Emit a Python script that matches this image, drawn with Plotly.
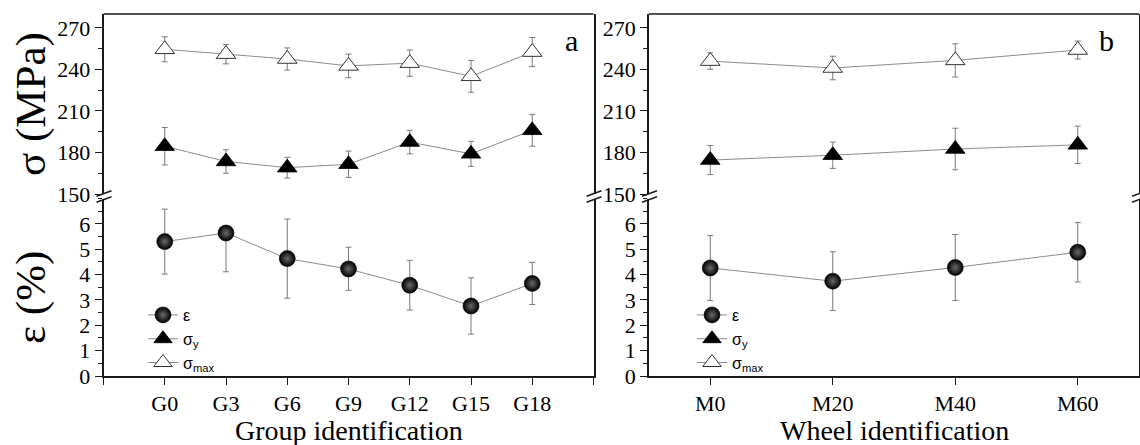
import plotly.graph_objects as go

# ---------------- data ----------------
groups = ["G0", "G3", "G6", "G9", "G12", "G15", "G18"]
wheels = ["M0", "M20", "M40", "M60"]

g_eps = [5.30, 5.64, 4.63, 4.22, 3.58, 2.76, 3.65]
g_eps_err_plus = [1.28, 0.0, 1.56, 0.86, 0.98, 1.11, 0.83]
g_eps_err_minus = [1.28, 1.53, 1.56, 0.84, 0.98, 1.11, 0.83]

g_sy = [184.5, 173.5, 169.0, 171.5, 187.5, 179.0, 196.0]
g_sy_err = [13.5, 8.5, 7.5, 9.5, 8.5, 9.0, 11.5]

g_smax = [254.5, 251.0, 247.5, 242.5, 244.5, 235.0, 252.5]
g_smax_err = [9.0, 7.0, 8.0, 8.5, 9.5, 11.5, 10.5]

w_eps = [4.26, 3.74, 4.28, 4.88]
w_eps_err = [1.28, 1.16, 1.30, 1.17]

w_sy = [174.5, 178.0, 182.5, 185.5]
w_sy_err = [10.5, 9.5, 15.0, 13.5]

w_smax = [246.0, 241.0, 246.5, 254.0]
w_smax_err = [6.0, 8.5, 12.0, 6.5]

sigma_ticks = [150, 180, 210, 240, 270]
eps_ticks = [0, 1, 2, 3, 4, 5, 6]

# ---------------- layout geometry (pixels) ----------------
W, H = 1140, 445
A_L, A_R = 103.5, 593.5
B_L, B_R = 649.0, 1139.0
TOP, UP_BOT, LOW_TOP, BOT = 14.0, 194.0, 198.5, 376.0


def px(x):
    return x / W


def py(y):
    return 1 - y / H


SERIF = "Liberation Serif, Times New Roman, serif"
SANS = "Liberation Sans, Arial, sans-serif"
LINE_C = "#8c8c8c"
ERR_C = "#7a7a7a"
FRAME_C = "#1a1a1a"

fig = go.Figure()


def add_panel(xs, eps, eps_p, eps_m, sy, sy_e, smax, smax_e, xa, ya_up, ya_low, legend):
    common_line = dict(color=LINE_C, width=1)
    fig.add_trace(go.Scatter(
        x=xs, y=eps, xaxis=xa, yaxis=ya_low, mode="lines+markers", name="ε",
        legend=legend, legendgroup=legend + "e",
        line=common_line,
        marker=dict(symbol="circle", size=16, color="#000000",
                    gradient=dict(type="radial", color="#6a6a6a"),
                    line=dict(color="#000000", width=0.6)),
        error_y=dict(type="data", array=eps_p, arrayminus=eps_m, symmetric=False,
                     color=ERR_C, thickness=1, width=3),
    ))
    fig.add_trace(go.Scatter(
        x=xs, y=sy, xaxis=xa, yaxis=ya_up, mode="lines+markers", name="σ<sub>y</sub>",
        legend=legend, legendgroup=legend + "y",
        line=common_line,
        marker=dict(symbol="triangle-up", size=17, color="#000000",
                    line=dict(color="#000000", width=0.8)),
        error_y=dict(type="data", array=sy_e, color=ERR_C, thickness=1, width=3),
    ))
    fig.add_trace(go.Scatter(
        x=xs, y=smax, xaxis=xa, yaxis=ya_up, mode="lines+markers", name="σ<sub>max</sub>",
        legend=legend, legendgroup=legend + "m",
        line=common_line,
        marker=dict(symbol="triangle-up", size=17, color="#ffffff",
                    line=dict(color="#333333", width=1)),
        error_y=dict(type="data", array=smax_e, color=ERR_C, thickness=1, width=3),
    ))


gx = list(range(len(groups)))
wx = list(range(len(wheels)))

add_panel(gx, g_eps, g_eps_err_plus, g_eps_err_minus, g_sy, g_sy_err, g_smax, g_smax_err,
          "x", "y", "y2", "legend")
add_panel(wx, w_eps, w_eps_err, w_eps_err, w_sy, w_sy_err, w_smax, w_smax_err,
          "x2", "y3", "y4", "legend2")

tickfont = dict(family=SERIF, size=22, color="#000000")
axis_common = dict(showgrid=False, zeroline=False, showline=True, linecolor=FRAME_C,
                   linewidth=1.5, ticks="outside", ticklen=7, tickwidth=1.2,
                   tickcolor=FRAME_C, tickfont=tickfont, automargin=False)

ga_ticks = [-1] + gx + [len(groups)]
ga_text = [""] + groups + [""]

fig.update_layout(
    xaxis=dict(domain=[px(A_L), px(A_R)], anchor="y2", range=[-1, len(groups)],
               tickmode="array", tickvals=ga_ticks, ticktext=ga_text, **axis_common),
    xaxis2=dict(domain=[px(B_L), px(B_R)], anchor="y4", range=[-0.5, len(wheels) - 0.5],
                tickmode="array", tickvals=wx, ticktext=wheels, **axis_common),
    yaxis=dict(domain=[py(UP_BOT), py(TOP)], anchor="x", range=[150, 280],
               tickmode="array", tickvals=sigma_ticks, mirror=True,
               minor=dict(dtick=15, tick0=150, ticks="outside", ticklen=4,
                          tickcolor=FRAME_C, tickwidth=1.2),
               **axis_common),
    yaxis2=dict(domain=[py(BOT), py(LOW_TOP)], anchor="x", range=[0, 7],
                tickmode="array", tickvals=eps_ticks, mirror=True,
                minor=dict(dtick=0.5, tick0=0, ticks="outside", ticklen=4,
                           tickcolor=FRAME_C, tickwidth=1.2),
                **axis_common),
    yaxis3=dict(domain=[py(UP_BOT), py(TOP)], anchor="x2", range=[150, 280],
                tickmode="array", tickvals=sigma_ticks, mirror=True,
                minor=dict(dtick=15, tick0=150, ticks="outside", ticklen=4,
                           tickcolor=FRAME_C, tickwidth=1.2),
                **axis_common),
    yaxis4=dict(domain=[py(BOT), py(LOW_TOP)], anchor="x2", range=[0, 7],
                tickmode="array", tickvals=eps_ticks, mirror=True,
                minor=dict(dtick=0.5, tick0=0, ticks="outside", ticklen=4,
                           tickcolor=FRAME_C, tickwidth=1.2),
                **axis_common),
)

leg_common = dict(xanchor="left", yanchor="top", bgcolor="rgba(0,0,0,0)",
                  font=dict(family=SANS, size=16, color="#000000"),
                  tracegroupgap=0, itemwidth=30)
fig.update_layout(
    legend=dict(x=px(143), y=py(298), **leg_common),
    legend2=dict(x=px(692), y=py(298), **leg_common),
)

# frame top lines and axis-break marks
shapes = []
for xl, xr in [(A_L, A_R), (B_L, B_R)]:
    shapes.append(dict(type="line", xref="paper", yref="paper",
                       x0=px(xl), x1=px(xr), y0=py(TOP), y1=py(TOP),
                       line=dict(color=FRAME_C, width=1.5)))
    for xe in (xl, xr):
        for yc in (UP_BOT - 0.5, LOW_TOP + 1.0):
            shapes.append(dict(type="line", xref="paper", yref="paper",
                               x0=px(xe - 7), x1=px(xe + 8),
                               y0=py(yc + 2.7), y1=py(yc - 2.7),
                               line=dict(color=FRAME_C, width=1.5)))
fig.update_layout(shapes=shapes)

annotations = [
    dict(text="a", x=px(571), y=py(41), font=dict(family=SERIF, size=30)),
    dict(text="b", x=px(1106), y=py(40), font=dict(family=SERIF, size=30)),
    dict(text="Group identification", x=px((A_L + A_R) / 2), y=py(430),
         font=dict(family=SERIF, size=28)),
    dict(text="Wheel identification", x=px((B_L + B_R) / 2), y=py(430),
         font=dict(family=SERIF, size=28)),
    dict(text="σ (MPa)", x=px(31), y=py(104), textangle=-90,
         font=dict(family=SERIF, size=43)),
    dict(text="ε (%)", x=px(31), y=py(298), textangle=-90,
         font=dict(family=SERIF, size=43)),
]
for a in annotations:
    a.update(xref="paper", yref="paper", showarrow=False, xanchor="center", yanchor="middle")
    a["font"]["color"] = "#000000"
fig.update_layout(annotations=annotations)

fig.update_layout(
    width=W, height=H, autosize=False,
    margin=dict(l=0, r=0, t=0, b=0),
    paper_bgcolor="#ffffff", plot_bgcolor="#ffffff",
    showlegend=True,
)

fig.write_html("out.html")
